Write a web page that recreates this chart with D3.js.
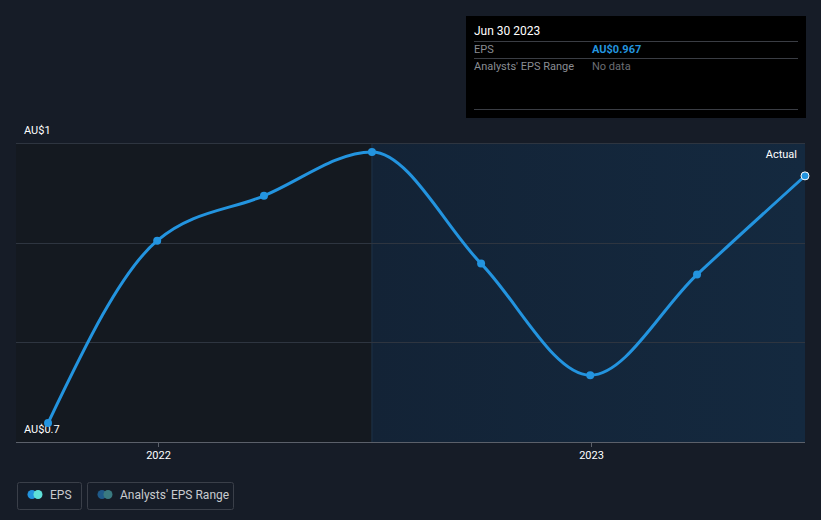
<!DOCTYPE html>
<html><head><meta charset="utf-8">
<script src="https://cdn.jsdelivr.net/npm/d3@7"></script>
<style>
html,body{margin:0;padding:0;background:#161c27;}
svg{display:block;font-family:Roboto,"Noto Sans",sans-serif;}
</style></head>
<body>
<svg id="c" width="821" height="520"></svg>
<script>
const dates = ["2021-09-30","2021-12-31","2022-03-31","2022-06-30","2022-09-30","2022-12-31","2023-03-31","2023-06-30"];
const eps = [0.719, 0.902, 0.947, 0.991, 0.879, 0.767, 0.868, 0.967];
const yTicks = [0.7, 0.8, 0.9, 1.0];
const yTickLabels = ["AU$0.7", "", "", "AU$1"];
const xTicks = ["2022-01-01","2023-01-01"];
const xTickLabels = ["2022","2023"];
const actualStart = "2022-06-30";

const svg = d3.select("#c");
const parse = d3.utcParse("%Y-%m-%d");
const L = 16, R = 805, T = 143, B = 442;
const x = d3.scaleUtc().domain([parse("2021-09-03"), parse("2023-06-30")]).range([L, R]);
const y = d3.scaleLinear().domain([0.7, 1.0]).range([B, T]);

const defs = svg.append("defs");
const grad = defs.append("linearGradient").attr("id","g").attr("x1",0).attr("x2",1).attr("y1",0).attr("y2",0);
grad.append("stop").attr("offset","0%").attr("stop-color","#132336");
grad.append("stop").attr("offset","100%").attr("stop-color","#14293f");

const xa = x(parse(actualStart));
svg.append("rect").attr("x",L).attr("y",T).attr("width",xa-L).attr("height",B-T).attr("fill","#141920");
svg.append("rect").attr("x",xa).attr("y",T).attr("width",R-xa).attr("height",B-T).attr("fill","url(#g)");
svg.append("line").attr("x1",xa).attr("x2",xa).attr("y1",T).attr("y2",B).attr("stroke","#1f3449").attr("stroke-width",1);

// gridlines
svg.append("g").selectAll("line").data(yTicks).join("line")
  .attr("x1",L).attr("x2",R).attr("y1",d=>Math.round(y(d))+0.5).attr("y2",d=>Math.round(y(d))+0.5)
  .attr("stroke",(d,i)=> i===0 ? "#5b606a" : "#2e3540").attr("stroke-width",1);

// y labels
svg.append("g").selectAll("text").data(yTicks.map((d,i)=>[d,yTickLabels[i]]).filter(d=>d[1])).join("text")
  .attr("x",24).attr("y",d=>y(d[0])-9).attr("fill","#ffffff").attr("font-size",11).text(d=>d[1]);

// x axis ticks
const xg = svg.append("g");
xTicks.forEach((t,i)=>{
  const xx = Math.round(x(parse(t)))+0.5;
  xg.append("line").attr("x1",xx).attr("x2",xx).attr("y1",B).attr("y2",B+5).attr("stroke","#5b606a");
  xg.append("text").attr("x",xx).attr("y",B+17).attr("text-anchor","middle").attr("fill","#ffffff").attr("font-size",11).text(xTickLabels[i]);
});

// Actual label
svg.append("text").attr("x",797).attr("y",158).attr("text-anchor","end").attr("fill","#ffffff").attr("font-size",11).text("Actual");

const pts = dates.map((d,i)=>({d:parse(d), v:eps[i]}));
const line = d3.line().x(p=>x(p.d)).y(p=>y(p.v)).curve(d3.curveMonotoneX);
svg.append("path").datum(pts).attr("d",line).attr("fill","none").attr("stroke","#2394df").attr("stroke-width",3);
svg.append("g").selectAll("circle").data(pts).join("circle")
  .attr("cx",p=>x(p.d)).attr("cy",p=>y(p.v)).attr("r",4)
  .attr("fill","#2394df")
  .attr("stroke",(p,i)=> i===pts.length-1 ? "#ffffff" : "none").attr("stroke-width",1);

// tooltip
const tt = svg.append("g");
tt.append("rect").attr("x",466).attr("y",16).attr("width",340).attr("height",102).attr("fill","#000000");
tt.append("text").attr("x",474).attr("y",35).attr("fill","#ffffff").attr("font-size",12).text("Jun 30 2023");
[41.5,58.5,109.5].forEach(yy=>tt.append("line").attr("x1",474).attr("x2",798).attr("y1",yy).attr("y2",yy).attr("stroke","#3a3d44"));
tt.append("text").attr("x",474).attr("y",53).attr("fill","#8a8d93").attr("font-size",11).text("EPS");
tt.append("text").attr("x",592).attr("y",53).attr("fill","#2394df").attr("font-size",11).attr("font-weight","bold").text("AU$" + eps[eps.length-1].toFixed(3));
tt.append("text").attr("x",474).attr("y",70).attr("fill","#8a8d93").attr("font-size",11).text("Analysts' EPS Range");
tt.append("text").attr("x",592).attr("y",70).attr("fill","#6b6e74").attr("font-size",11).text("No data");

// legend
const lg = svg.append("g");
const items = [
  {x:17, w:64, label:"EPS", c1:"#2394df", c2:"#5fe0d8"},
  {x:87, w:146, label:"Analysts' EPS Range", c1:"#1f5a8a", c2:"#3a7a80"}
];
items.forEach(it=>{
  lg.append("rect").attr("x",it.x+0.5).attr("y",482.5).attr("width",it.w).attr("height",27).attr("rx",2)
    .attr("fill","none").attr("stroke","#3a3f49");
  lg.append("circle").attr("cx",it.x+15).attr("cy",494.5).attr("r",4.5).attr("fill",it.c1);
  lg.append("circle").attr("cx",it.x+21).attr("cy",494.5).attr("r",4.5).attr("fill",it.c2);
  lg.append("text").attr("x",it.x+33).attr("y",498.5).attr("fill","#c9cbcf").attr("font-size",12).text(it.label);
});
</script>
</body></html>
